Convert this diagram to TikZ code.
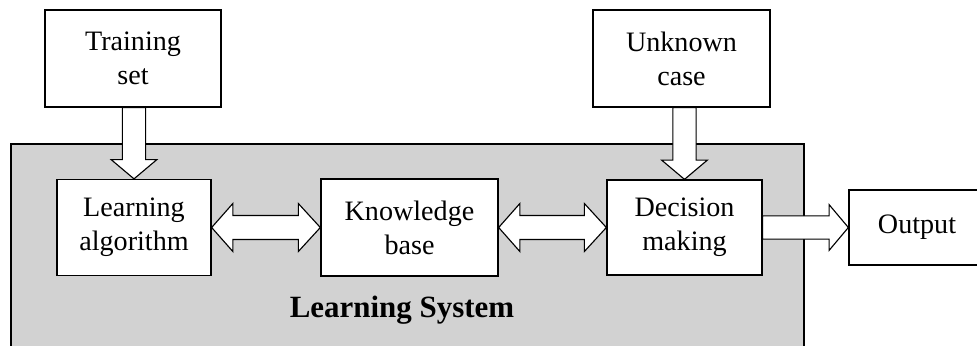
\documentclass[tikz,border=0pt]{standalone}
\usepackage{fontspec}
\setmainfont{Liberation Serif}
\usetikzlibrary{calc}
\definecolor{sysgray}{HTML}{D2D2D2}

\begin{document}
\begin{tikzpicture}[
        x=0.025cm, y=-0.025cm,
        box/.style={draw, fill=white, line width=0.9pt, align=center, inner sep=0pt,
                    font=\fontsize{20}{24}\selectfont},
        fat/.style={draw, fill=white, line width=0.8pt, to path={
            let \p1=(\tikztostart), \p2=(\tikztotarget),
                \n1={atan2(\y2-\y1,\x2-\x1)},
                \p3=($(\p2)+(\n1:-0.48cm)$) in
            ($(\p1)+(\n1+90:0.29cm)$) -- ($(\p3)+(\n1+90:0.29cm)$)
            -- ($(\p3)+(\n1+90:0.57cm)$) -- (\p2) -- ($(\p3)+(\n1-90:0.57cm)$)
            -- ($(\p3)+(\n1-90:0.29cm)$) -- ($(\p1)+(\n1-90:0.29cm)$) -- cycle}},
        fatboth/.style={draw, fill=white, line width=0.8pt, to path={
            let \p1=(\tikztostart), \p2=(\tikztotarget),
                \n1={atan2(\y2-\y1,\x2-\x1)},
                \p3=($(\p1)+(\n1:0.53cm)$), \p4=($(\p2)+(\n1:-0.55cm)$) in
            (\p1) -- ($(\p3)+(\n1+90:0.6cm)$) -- ($(\p3)+(\n1+90:0.3cm)$)
            -- ($(\p4)+(\n1+90:0.3cm)$) -- ($(\p4)+(\n1+90:0.6cm)$) -- (\p2)
            -- ($(\p4)+(\n1-90:0.6cm)$) -- ($(\p4)+(\n1-90:0.3cm)$)
            -- ($(\p3)+(\n1-90:0.3cm)$) -- ($(\p3)+(\n1-90:0.6cm)$) -- cycle}},
    ]
        \useasboundingbox (0,0) rectangle (977,345);
        \clip (0,0) rectangle (977,345);

        % Learning system frame
        \node[draw, fill=sysgray, line width=0.9pt, inner sep=0pt,
              minimum width=19.825cm, minimum height=5.5cm] (sys) at (407.5,254) {};
        \node[font=\fontsize{22}{26}\selectfont\bfseries] (syslbl) at (402,310) {Learning System};

        % Inputs
        \node[box, minimum width=4.4cm,  minimum height=2.425cm] (tr) at (133,58.5) {Training\\set};
        \node[box, minimum width=4.425cm, minimum height=2.425cm] (uc) at (681.5,58.5) {Unknown\\case};

        % Inner blocks
        \node[box, minimum width=3.85cm,  minimum height=2.4cm]   (la) at (134,227.5) {Learning\\algorithm};
        \node[box, minimum width=4.425cm, minimum height=2.425cm] (kb) at (409.5,227.5) {Knowledge\\base};
        \node[box, minimum width=3.875cm, minimum height=2.375cm] (dm) at (684.5,227.5) {Decision\\making};

        % Output (right edge runs off the page)
        \node[box, minimum width=3.4cm, minimum height=1.875cm] (out) at (917,227.5) {Output};

        \draw[fat] (tr.south -| la.north) to (la.north);
        \draw[fat] (uc.south -| dm.north) to (dm.north);
        \draw[fatboth] (la.east) to (kb.west);
        \draw[fatboth] (kb.east) to (dm.west);
        \draw[fat] (dm.east) to (out.west);
    \end{tikzpicture}
\end{document}
